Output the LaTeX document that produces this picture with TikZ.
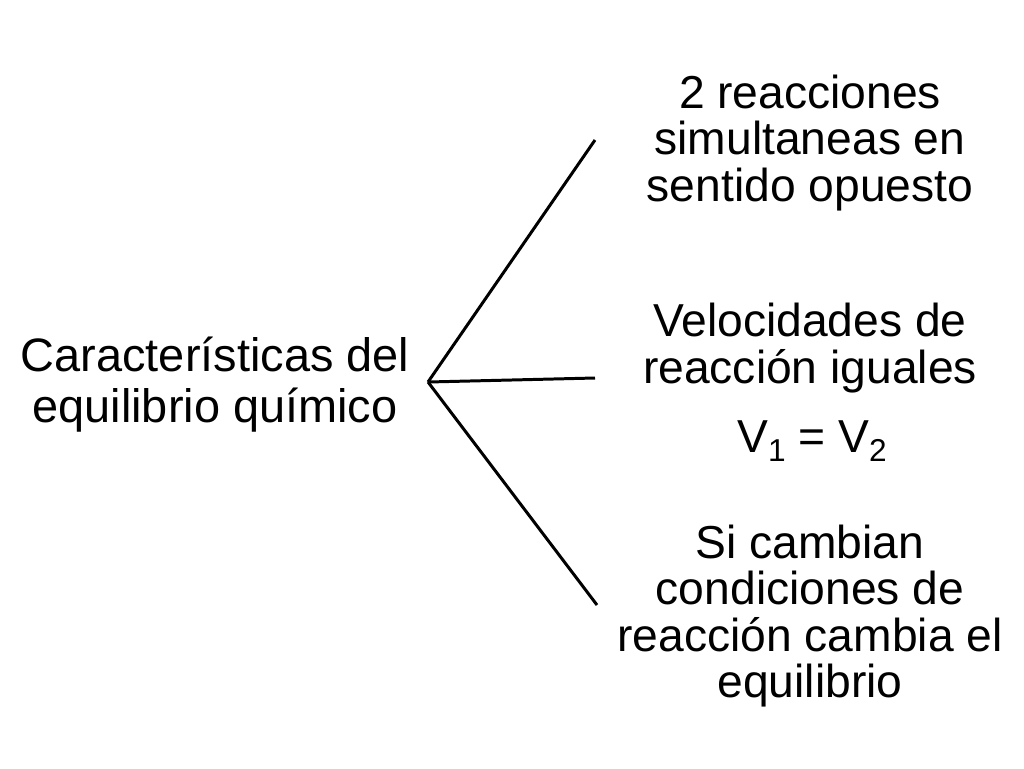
\documentclass[tikz,border=0pt]{standalone}
\usepackage{fontspec}
\setmainfont{Liberation Sans}
\usepackage{tikz}
\newcommand{\sub}[1]{\raisebox{-0.35ex}{\fontsize{18}{18}\selectfont #1}}
\begin{document}
\begin{tikzpicture}[x=0.02cm,y=-0.02cm,thick]
    \tikzset{txt/.style={align=center,font=\fontsize{26.3}{26.5}\selectfont,inner sep=0pt}}
    \useasboundingbox (0,0) rectangle (1024,768);
    \node[txt,font=\fontsize{26.7}{29}\selectfont] (root) at (215,385) {Características del\\equilibrio químico};
    \node[txt] (r1) at (810,143) {2 reacciones\\simultaneas en\\sentido opuesto};
    \node[txt] (r2) at (810,348) {Velocidades de\\reacción iguales};
    \node[txt] (v) at (812,441) {V\sub{1} = V\sub{2}};
    \node[txt] (r3) at (810,616) {Si cambian\\condiciones de\\reacción cambia el\\equilibrio};
    \coordinate (j) at (428,382);
    \coordinate (e1) at (595,140);
    \coordinate (e2) at (595,378);
    \coordinate (e3) at (597,605);
    \draw[line width=1.7pt] (j)--(e1);
    \draw[line width=1.7pt] (j)--(e2);
    \draw[line width=1.7pt] (j)--(e3);
\end{tikzpicture}
\end{document}
